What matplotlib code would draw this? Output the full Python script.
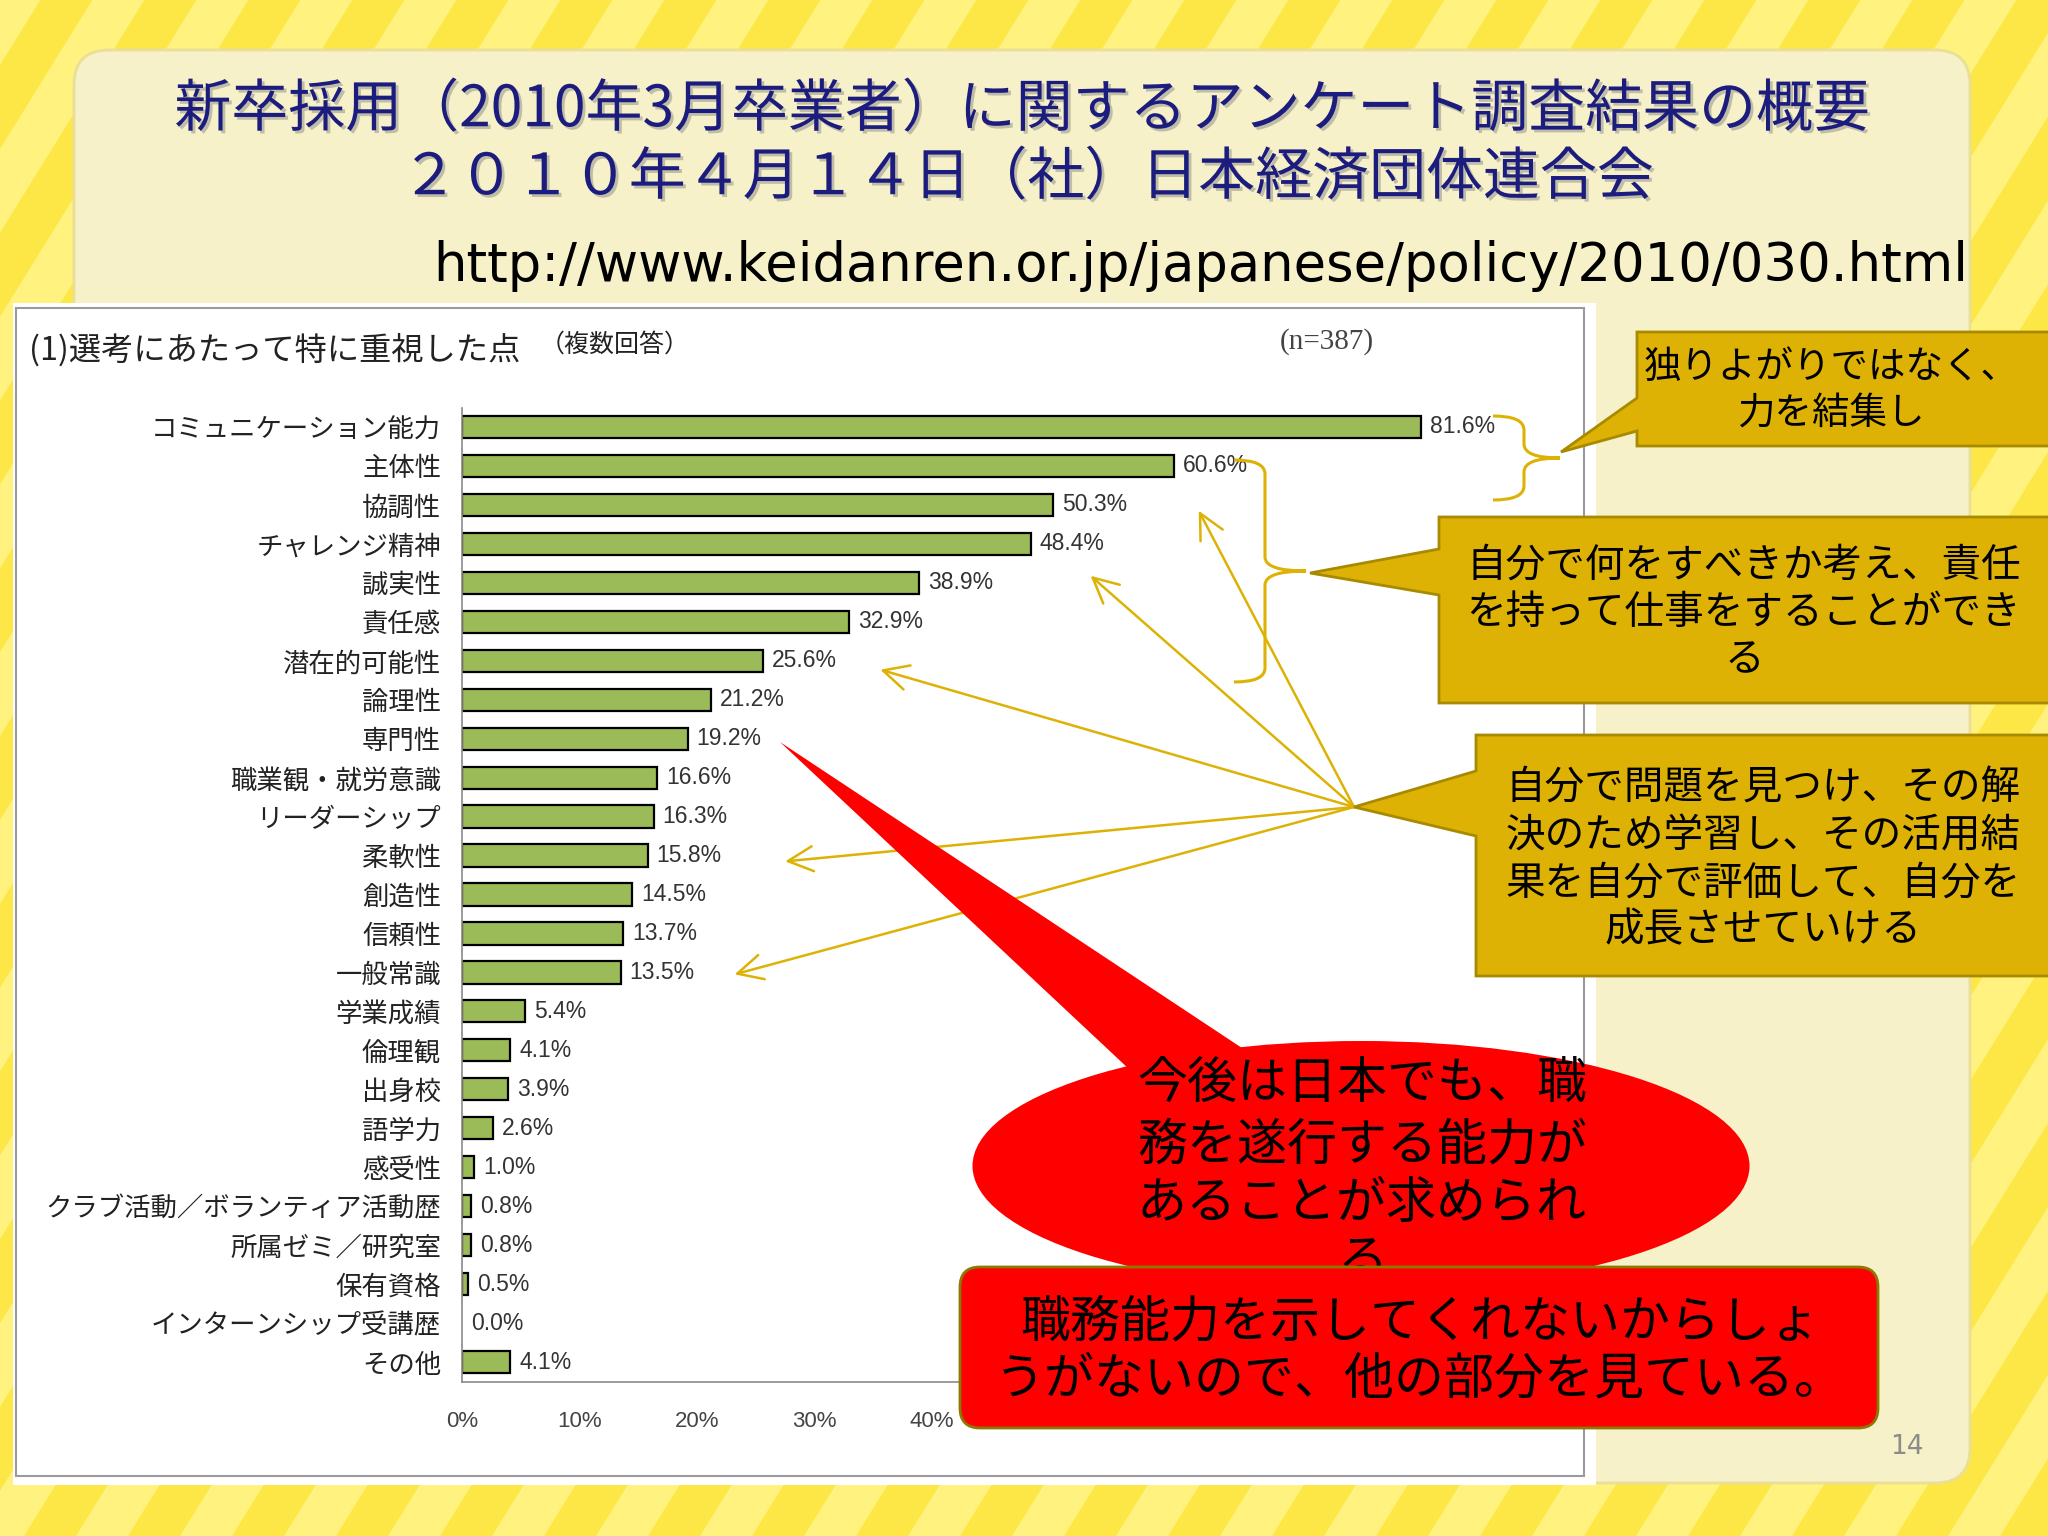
import matplotlib
matplotlib.use('Agg')
import matplotlib.pyplot as plt
import matplotlib.patches as mpatches
import matplotlib.patheffects as pe
from matplotlib.path import Path
import numpy as np

plt.rcParams['font.family'] = ['Noto Sans CJK JP', 'DejaVu Sans']

W, H = 2048, 1536

categories = ['コミュニケーション能力', '主体性', '協調性', 'チャレンジ精神', '誠実性',
              '責任感', '潜在的可能性', '論理性', '専門性', '職業観・就労意識',
              'リーダーシップ', '柔軟性', '創造性', '信頼性', '一般常識',
              '学業成績', '倫理観', '出身校', '語学力', '感受性',
              'クラブ活動／ボランティア活動歴', '所属ゼミ／研究室', '保有資格',
              'インターンシップ受講歴', 'その他']
values = [81.6, 60.6, 50.3, 48.4, 38.9, 32.9, 25.6, 21.2, 19.2, 16.6,
          16.3, 15.8, 14.5, 13.7, 13.5, 5.4, 4.1, 3.9, 2.6, 1.0,
          0.8, 0.8, 0.5, 0.0, 4.1]
xticks = [0, 10, 20, 30, 40, 50, 60, 70, 80, 90]
xtick_labels = [f'{t}%' for t in xticks]

# bars the yellow arrows point at (index, x offset in %, y offset)
arrow_targets = [(2, 12.4, 0.15), (4, 14.6, -0.18), (6, 10.0, 0.23),
                 (11, 11.7, 0.15), (14, 9.7, 0.05)]

title1 = '新卒採用（2010年3月卒業者）に関するアンケート調査結果の概要'
title2 = '２０１０年４月１４日（社）日本経済団体連合会'
url = 'http://www.keidanren.or.jp/japanese/policy/2010/030.html'
chart_title = '(1)選考にあたって特に重視した点'
note1 = ['独りよがりではなく、', '力を結集し']
note2 = ['自分で何をすべきか考え、責任', 'を持って仕事をすることができ', 'る']
note3 = ['自分で問題を見つけ、その解', '決のため学習し、その活用結', '果を自分で評価して、自分を', '成長させていける']
note4 = ['今後は日本でも、職', '務を遂行する能力が', 'あることが求められ', 'る']
note5 = ['職務能力を示してくれないからしょ', 'うがないので、他の部分を見ている。']

gold = '#DDB204'
gold_edge = '#A88A00'

fig = plt.figure(figsize=(W / 100, H / 100), dpi=100)

# background layer in pixel coords
bg = fig.add_axes([0, 0, 1, 1], zorder=0)
bg.set_xlim(0, W)
bg.set_ylim(H, 0)
bg.axis('off')
bg.add_patch(mpatches.Rectangle((0, 0), W, H, color='#FFF27E', zorder=0))
period = 104
slope = 0.62
for x0 in np.arange(-H, W + H, period):
    poly = [(x0, H), (x0 + period / 2, H), (x0 + period / 2 + slope * H, 0), (x0 + slope * H, 0)]
    bg.add_patch(mpatches.Polygon(poly, closed=True, color='#FDE747', lw=0, zorder=1))

bg.add_patch(mpatches.FancyBboxPatch((74, 50), 1896, 1433, boxstyle='round,pad=0,rounding_size=35',
                                     facecolor='#F6F1C8', edgecolor='#EADF98', lw=2, zorder=2))

shadow = [pe.withSimplePatchShadow(offset=(2, -2), shadow_rgbFace='#8a8a8a', alpha=0.5)]
bg.text(1023, 110, title1, ha='center', va='center', fontsize=41, color='#1C1C7E',
        path_effects=shadow, zorder=3)
bg.text(1028, 178, title2, ha='center', va='center', fontsize=41, color='#1C1C7E',
        path_effects=shadow, zorder=3)
bg.text(1968, 266, url, ha='right', va='center', fontsize=38.1, color='black',
        family=['DejaVu Sans'], zorder=3)

# white chart box
bg.add_patch(mpatches.Rectangle((13, 303), 1583, 1182, facecolor='white', edgecolor='none', zorder=3))
bg.add_patch(mpatches.Rectangle((16, 308), 1568, 1168, facecolor='none', edgecolor='#9A9A9A', lw=1.5, zorder=4))
bg.text(29, 350, chart_title, ha='left', va='center', fontsize=23.2, color='#222', zorder=5)
bg.text(540, 345, '（複数回答）', ha='left', va='center', fontsize=18, color='#222', zorder=5)
bg.text(1280, 342, '(n=387)', ha='left', va='center', fontsize=21, color='#444',
        family=['Liberation Serif'], zorder=5)
bg.text(1907, 1447, '14', ha='center', va='center', fontsize=19, color='#8C8C8C',
        family=['DejaVu Sans'], zorder=5)

# bar chart
ax = fig.add_axes([462 / W, (H - 1381.5) / H, 1057.5 / W, 974 / H], zorder=1)
ax.set_facecolor('none')
ypos = np.arange(len(categories))
ax.barh(ypos, values, height=0.57, color='#9BBB59', edgecolor='black',
        linewidth=[1.6 if v > 0 else 0 for v in values])
for i, v in enumerate(values):
    ax.annotate(f'{v:.1f}%', (v, i), xytext=(6.5, 0), textcoords='offset points',
                ha='left', va='center', fontsize=16.5, color='#333', family=['Liberation Sans'])
ax.set_xlim(0, 90)
ax.set_ylim(len(categories) - 0.5, -0.5)
ax.set_yticks(ypos, categories, fontsize=19, color='#222')
ax.set_xticks(xticks, xtick_labels, fontsize=16, color='#444', family=['Liberation Sans'])
ax.tick_params(axis='y', length=0, pad=15)
ax.tick_params(axis='x', length=0, pad=21)
for s in ['top', 'right']:
    ax.spines[s].set_visible(False)
for s in ['left', 'bottom']:
    ax.spines[s].set_color('#8A8A8A')
    ax.spines[s].set_linewidth(1.2)

# overlay layer for callouts
ov = fig.add_axes([0, 0, 1, 1], zorder=2)
ov.set_facecolor('none')
ov.set_xlim(0, W)
ov.set_ylim(H, 0)
ov.axis('off')


def brace(x0, x1, xt, yt, yb):
    ym = (yt + yb) / 2
    r = 14
    verts = [(x0, yt), (x1, yt), (x1, yt + r), (x1, ym - r), (x1, ym), (xt, ym),
             (x1, ym), (x1, ym + r), (x1, yb - r), (x1, yb), (x0, yb)]
    codes = [Path.MOVETO, Path.CURVE3, Path.CURVE3, Path.LINETO, Path.CURVE3, Path.CURVE3,
             Path.CURVE3, Path.CURVE3, Path.LINETO, Path.CURVE3, Path.CURVE3]
    ov.add_patch(mpatches.PathPatch(Path(verts, codes), facecolor='none', edgecolor=gold, lw=2.2, zorder=3))


brace(1493, 1524, 1560, 416, 500)
brace(1234, 1265, 1306, 460, 682)

# yellow arrows from callout 3 to the value labels
for i, dx, dy in arrow_targets:
    ov.annotate('', xy=(values[i] + dx, i + dy), xycoords=ax.transData,
                xytext=(1354, 807), textcoords='data',
                arrowprops=dict(arrowstyle='->,head_length=0.9,head_width=0.45', color=gold,
                                lw=1.8, shrinkA=0, shrinkB=0, mutation_scale=20),
                zorder=3)


def callout(x0, y0, y1, tip, b0, b1, lines, cx, ys, fs):
    poly = [(x0, y0), (2060, y0), (2060, y1), (x0, y1), (x0, b1), tip, (x0, b0)]
    ov.add_patch(mpatches.Polygon(poly, closed=True, facecolor=gold, edgecolor=gold_edge, lw=2, zorder=4))
    for t, yy in zip(lines, ys):
        ov.text(cx, yy, t, ha='center', va='center', fontsize=fs, color='black', zorder=5)


callout(1637, 332, 446, (1561, 452), 398, 431, note1, 1831, [367, 413], 27)
callout(1439, 517, 703, (1310, 573), 549, 595, note2, 1744, [566, 613, 660], 28.5)
callout(1476, 735, 976, (1354, 807), 771, 836, note3, 1763, [788, 836, 884, 930], 28.5)

# red speech balloon
ov.add_patch(mpatches.Ellipse((1361, 1166), 777, 250, facecolor='#FF0000', edgecolor='none', zorder=6))
ov.add_patch(mpatches.Polygon([(780, 742), (1130, 1070), (1245, 1050)], closed=True,
                              facecolor='#FF0000', edgecolor='none', zorder=6))
for t, yy in zip(note4, [1084, 1145, 1204, 1262]):
    ov.text(1362, yy, t, ha='center', va='center', fontsize=36, color='black', zorder=7)

ov.add_patch(mpatches.FancyBboxPatch((960, 1267), 918, 161, boxstyle='round,pad=0,rounding_size=20',
                                     facecolor='#FF0000', edgecolor='#8C7A00', lw=2, zorder=8))
for t, yy in zip(note5, [1322, 1380]):
    ov.text(1420, yy, t, ha='center', va='center', fontsize=36, color='black', zorder=9)

fig.savefig('out.png', dpi=100)
